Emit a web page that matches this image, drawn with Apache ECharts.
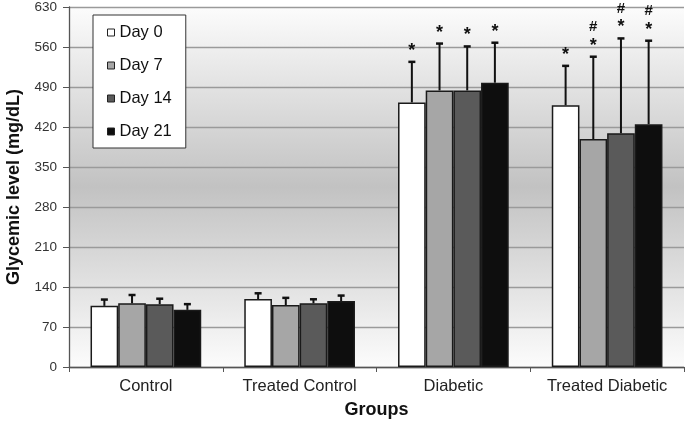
<!DOCTYPE html>
<html><head><meta charset="utf-8">
<script src="https://cdn.jsdelivr.net/npm/echarts@6/dist/echarts.min.js"></script>
<style>html,body{margin:0;padding:0;background:#fff}#c{width:685px;height:422px}</style>
</head><body><div id="c"></div>
<script>
var categories = ['Control', 'Treated Control', 'Diabetic', 'Treated Diabetic'];
var seriesNames = ['Day 0', 'Day 7', 'Day 14', 'Day 21'];
var day0 = [107, 119, 463, 458];
var day7 = [111.5, 108.5, 484, 399];
var day14 = [110, 111.5, 484, 409];
var day21 = [100, 115.5, 497.5, 425];
var err0 = [118, 129, 534, 527];
var err7 = [126, 121, 566, 543];
var err14 = [119.5, 118.5, 561, 575];
var err21 = [110, 125, 567.5, 571];
var sig0 = ['', '', '*', '*'];
var sig7 = ['', '', '*', '*#'];
var sig14 = ['', '', '*', '*#'];
var sig21 = ['', '', '*', '*#'];
var yTicks = [0, 70, 140, 210, 280, 350, 420, 490, 560, 630];

var means = [day0, day7, day14, day21];
var errs = [err0, err7, err14, err21];
var sigs = [sig0, sig7, sig14, sig21];
var colors = ['#ffffff', '#a6a6a6', '#5a5a5a', '#0e0e0e'];
var GAP = 0.28;
var FONT = '"Liberation Sans", Arial, sans-serif';

var series = [];
seriesNames.forEach(function (n, i) {
  series.push({
    name: n, type: 'bar', data: means[i], barGap: '0%', barCategoryGap: (GAP * 100) + '%',
    itemStyle: { color: colors[i], borderColor: '#1a1a1a', borderWidth: 1.5 },
    z: 2
  });
});
seriesNames.forEach(function (n, i) {
  series.push({
    type: 'custom', silent: true, z: 3,
    data: categories.map(function (c, k) { return [k, means[i][k], errs[i][k]]; }),
    renderItem: function (params, api) {
      var k = api.value(0);
      var base = api.coord([k, api.value(1)]);
      var top = api.coord([k, api.value(2)]);
      var band = api.size([1, 0])[0];
      var bw = band * (1 - GAP) / 4;
      var x = base[0] - 2 * bw + (i + 0.5) * bw;
      var children = [
        { type: 'line', shape: { x1: x, y1: base[1], x2: x, y2: top[1] }, style: { stroke: '#111', lineWidth: 2 } },
        { type: 'line', shape: { x1: x - 3.5, y1: top[1], x2: x + 3.5, y2: top[1] }, style: { stroke: '#111', lineWidth: 2.5 } }
      ];
      var s = sigs[i][k];
      var yy = top[1] - 4;
      for (var j = 0; j < s.length; j++) {
        children.push({ type: 'text', style: { text: s[j], x: x, y: s[j] === '*' ? yy + 2 : yy - 1, align: 'center', verticalAlign: 'bottom', font: 'bold ' + (s[j] === '*' ? 18 : 15) + 'px ' + FONT, fill: '#111' } });
        yy -= 17;
      }
      return { type: 'group', children: children };
    }
  });
});

var chart = echarts.init(document.getElementById('c'));
chart.setOption({
  animation: false,
  textStyle: { fontFamily: FONT },
  grid: {
    left: 69, right: 1, top: 7, bottom: 55, show: true, borderWidth: 0, outerBoundsMode: 'none', containLabel: false,
    backgroundColor: new echarts.graphic.LinearGradient(0, 0, 0, 1, [
      { offset: 0, color: '#fcfcfc' }, { offset: 0.5, color: '#c2c2c2' }, { offset: 1, color: '#fcfcfc' }
    ])
  },
  legend: {
    orient: 'vertical', left: 93, top: 15, data: seriesNames,
    backgroundColor: '#fff', borderColor: '#333', borderWidth: 1, borderRadius: 0,
    padding: [9, 14, 8, 14], itemGap: 16, itemWidth: 7, itemHeight: 7, icon: 'rect',
    textStyle: { fontSize: 16.5, color: '#111', fontFamily: FONT },
    itemStyle: { borderColor: '#222', borderWidth: 1 }
  },
  xAxis: {
    type: 'category', data: categories,
    name: 'Groups', nameLocation: 'middle', nameGap: 34,
    nameTextStyle: { fontSize: 18, fontWeight: 'bold', color: '#111' },
    axisLine: { lineStyle: { color: '#555', width: 1.3 } },
    axisTick: { show: true, length: 5, interval: 0, lineStyle: { color: '#555' } },
    axisLabel: { fontSize: 16.5, color: '#222', margin: 11, interval: 0, hideOverlap: false }
  },
  yAxis: {
    type: 'value', min: 0, max: 630, interval: 70,
    name: 'Glycemic level (mg/dL)', nameLocation: 'middle', nameGap: 46,
    nameTextStyle: { fontSize: 18, fontWeight: 'bold', color: '#111' },
    axisLine: { show: true, lineStyle: { color: '#555', width: 1.3 } },
    axisTick: { show: true, length: 6, lineStyle: { color: '#555' } },
    axisLabel: { fontSize: 13.5, color: '#333', margin: 12,
      formatter: function (v) { return yTicks.indexOf(v) >= 0 ? String(v) : ''; } },
    splitLine: { lineStyle: { color: '#9a9a9a', width: 1.3 } }
  },
  series: series
});
</script></body></html>
